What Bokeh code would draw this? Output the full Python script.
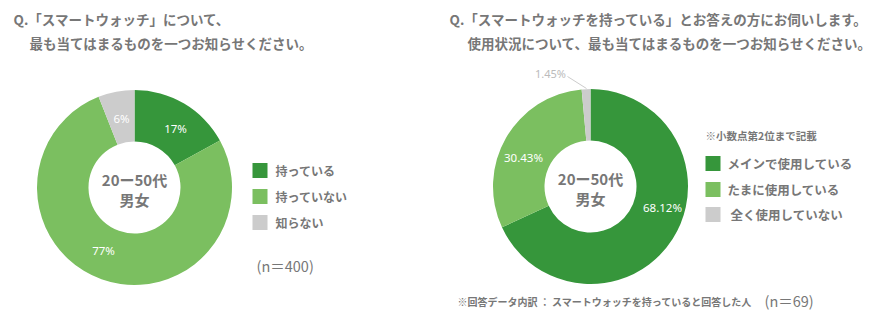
import math
from bokeh.plotting import figure
from bokeh.models import Range1d, ColumnDataSource
from bokeh.core.properties import value
from bokeh.embed import file_html
from bokeh.resources import INLINE

# ---------------- data ----------------
left_categories = ["持っている", "持っていない", "知らない"]
left_values = [17, 77, 6]
left_n = "(n＝400)"

right_categories = ["メインで使用している", "たまに使用している", "全く使用していない"]
right_values = [68.12, 30.43, 1.45]
right_n = "(n＝69)"

left_title = ["Q.「スマートウォッチ」について、", "最も当てはまるものを一つお知らせください。"]
right_title = ["Q.「スマートウォッチを持っている」とお答えの方にお伺いします。",
               "使用状況について、最も当てはまるものを一つお知らせください。"]
center_text = ["20ー50代", "男女"]
right_note = "※小数点第2位まで記載"
footer_note = "※回答データ内訳 ： スマートウォッチを持っていると回答した人"

# ---------------- style ----------------
W, H = 887, 335
COLORS = ["#36963b", "#7bbf60", "#cccccc"]
GRAY = "#777777"
JP = value("Noto Sans CJK JP")
NUM = value("Noto Sans")


def Y(py):
    return H - py


p = figure(width=W, height=H, output_backend="svg", toolbar_location=None,
           x_range=Range1d(0, W), y_range=Range1d(0, H), min_border=0)
p.axis.visible = False
p.grid.visible = False
p.outline_line_color = None
p.background_fill_color = "white"
p.border_fill_color = "white"

R_OUT, R_IN = 97.5, 46


def donut(cx, cy, values):
    total = float(sum(values))
    starts, ends = [], []
    cum = 0.0
    for v in values:
        a0 = math.pi / 2 - 2 * math.pi * cum / total
        cum += v
        a1 = math.pi / 2 - 2 * math.pi * cum / total
        starts.append(a0)
        ends.append(a1)
    src = ColumnDataSource(dict(x=[cx] * len(values), y=[Y(cy)] * len(values),
                                start=starts, end=ends, color=COLORS[:len(values)]))
    p.annular_wedge(x="x", y="y", inner_radius=R_IN, outer_radius=R_OUT,
                    start_angle="start", end_angle="end", direction="clock",
                    fill_color="color", line_color=None, source=src)
    p.text(x=[cx, cx], y=[Y(cy - 8), Y(cy + 12)], text=center_text,
           text_font=JP, text_font_size="15px", text_font_style="bold",
           text_color=GRAY, text_align="center", text_baseline="middle")


LCX, LCY = 134, 187
RCX, RCY = 590, 186
donut(LCX, LCY, left_values)
donut(RCX, RCY, right_values)

# percentage labels (positions are layout)
left_label_pos = [(175, 128), (103, 250), (121, 118)]
left_labels = [f"{v}%" for v in left_values]
p.text(x=[q[0] for q in left_label_pos], y=[Y(q[1]) for q in left_label_pos],
       text=left_labels, text_font=NUM, text_font_size="11.5px",
       text_color="white", text_align="center", text_baseline="middle")

right_label_pos = [(662, 207), (523, 157)]
right_labels = [f"{v:.2f}%" for v in right_values]
p.text(x=[q[0] for q in right_label_pos], y=[Y(q[1]) for q in right_label_pos],
       text=right_labels[:2], text_font=NUM, text_font_size="11.5px",
       text_color="white", text_align="center", text_baseline="middle")
p.text(x=[550], y=[Y(73)], text=[right_labels[2]], text_font=NUM,
       text_font_size="11px", text_color="#bbbbbb", text_align="center",
       text_baseline="middle")
p.line(x=[567, 586], y=[Y(76), Y(88)], line_color="#cccccc", line_width=1)

# titles
p.text(x=[13, 29], y=[Y(18), Y(42)], text=left_title, text_font=JP,
       text_font_size="13.5px", text_font_style="bold", text_color=GRAY,
       text_align="left", text_baseline="middle")
p.text(x=[449, 467], y=[Y(18), Y(42)], text=right_title, text_font=JP,
       text_font_size="13.5px", text_font_style="bold", text_color=GRAY,
       text_align="left", text_baseline="middle")

# left legend
ly = [170, 196, 222]
p.rect(x=[259.5] * 3, y=[Y(v) for v in ly], width=15, height=15,
       fill_color=COLORS, line_color=None)
p.text(x=[275] * 3, y=[Y(v) for v in ly], text=left_categories, text_font=JP,
       text_font_size="12px", text_font_style="bold", text_color=GRAY,
       text_align="left", text_baseline="middle")
p.text(x=[256], y=[Y(265)], text=[left_n], text_font=JP, text_font_size="14.5px",
       text_color=GRAY, text_align="left", text_baseline="middle")

# right legend
p.text(x=[705], y=[Y(135)], text=[right_note], text_font=JP,
       text_font_size="10.5px", text_font_style="bold", text_color=GRAY,
       text_align="left", text_baseline="middle")
ry = [163, 189, 214]
p.rect(x=[712.5] * 3, y=[Y(v) for v in ry], width=15, height=15,
       fill_color=COLORS, line_color=None)
p.text(x=[727, 727, 730], y=[Y(v) for v in ry], text=right_categories, text_font=JP,
       text_font_size="12.5px", text_font_style="bold", text_color=GRAY,
       text_align="left", text_baseline="middle")

# footer
p.text(x=[457], y=[Y(301)], text=[footer_note], text_font=JP,
       text_font_size="10px", text_font_style="bold", text_color=GRAY,
       text_align="left", text_baseline="middle")
p.text(x=[764], y=[Y(300)], text=[right_n], text_font=JP, text_font_size="14.5px",
       text_color=GRAY, text_align="left", text_baseline="middle")

open("out.html", "w").write(file_html(p, INLINE))
